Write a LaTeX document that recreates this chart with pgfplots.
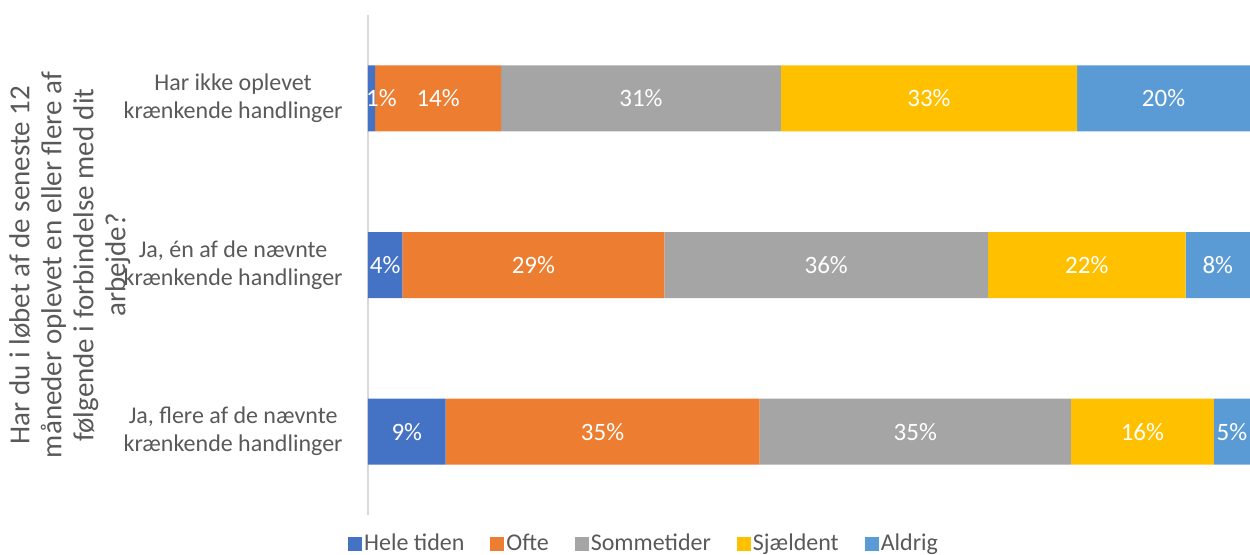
\documentclass[border=0pt]{standalone}
\usepackage{pgfplots}
\pgfplotsset{compat=1.18}
\usepackage{fontspec}
\setmainfont{Carlito}
\definecolor{cHele}{HTML}{4472C4}
\definecolor{cOfte}{HTML}{ED7D31}
\definecolor{cSom}{HTML}{A5A5A5}
\definecolor{cSja}{HTML}{FFC000}
\definecolor{cAld}{HTML}{5B9BD5}
\definecolor{txt}{HTML}{595959}
\begin{document}
\begin{tikzpicture}
\path[use as bounding box] (-184pt,-19.5pt) rectangle (441pt,257.5pt);
\begin{axis}[
  scale only axis, width=441pt, height=250pt,
  at={(0,0)}, anchor=south west,
  clip=false,
  xbar stacked, bar width=33pt,
  xmin=0, xmax=100, ymin=-0.5, ymax=2.5,
  hide x axis,
  axis y line*=left,
  y axis line style={draw=black!15, line width=0.8pt},
  ytick={0,1,2},
  yticklabels={{Ja, flere af de nævnte\\krænkende handlinger},{Ja, én af de nævnte\\krænkende handlinger},{Har ikke oplevet\\krænkende handlinger}},
  yticklabel style={align=center, font=\fontsize{12}{14}\selectfont, text=txt, inner sep=0pt, xshift=-12.5pt},
  major tick length=0pt,
  ylabel={Har du i løbet af de seneste 12\\måneder oplevet en eller flere af\\følgende i forbindelse med dit\\arbejde?},
  ylabel style={at={(axis description cs:-0.338,0.5)}, anchor=center, align=center, font=\fontsize{14.5}{16}\selectfont, text=txt},
  point meta=explicit symbolic,
  nodes near coords,
  every node near coord/.append style={text=white, font=\fontsize{12.5}{14}\selectfont},
  legend columns=-1,
  legend style={at={(axis description cs:0.313,0)}, anchor=center, yshift=-14.5pt, draw=none, fill=none, font=\fontsize{12}{14}\selectfont, text=txt, nodes={inner xsep=1pt}, /tikz/every even column/.append style={column sep=12pt}},
  legend image code/.code={\fill[#1] (0pt,-3.5pt) rectangle (7pt,3.5pt);},
]
\addplot[fill=cHele, draw=none,
  visualization depends on={\thisrow{sh}\as\sh},
  every node near coord/.append style={xshift=\sh pt}]
  table[x=x, y=y, meta=lab] {
x y lab sh
8.8 0 9\% 0
3.9 1 4\% 0
0.8 2 1\% 5
};
\addplot[fill=cOfte, draw=none] coordinates {(35.6,0) [35\%] (29.7,1) [29\%] (14.3,2) [14\%]};
\addplot[fill=cSom, draw=none] coordinates {(35.3,0) [35\%] (36.7,1) [36\%] (31.7,2) [31\%]};
\addplot[fill=cSja, draw=none] coordinates {(16.2,0) [16\%] (22.4,1) [22\%] (33.6,2) [33\%]};
\addplot[fill=cAld, draw=none] coordinates {(4.1,0) [5\%] (7.3,1) [8\%] (19.6,2) [20\%]};
\legend{Hele tiden, Ofte, Sommetider, Sjældent, Aldrig}
\end{axis}
\end{tikzpicture}
\end{document}
